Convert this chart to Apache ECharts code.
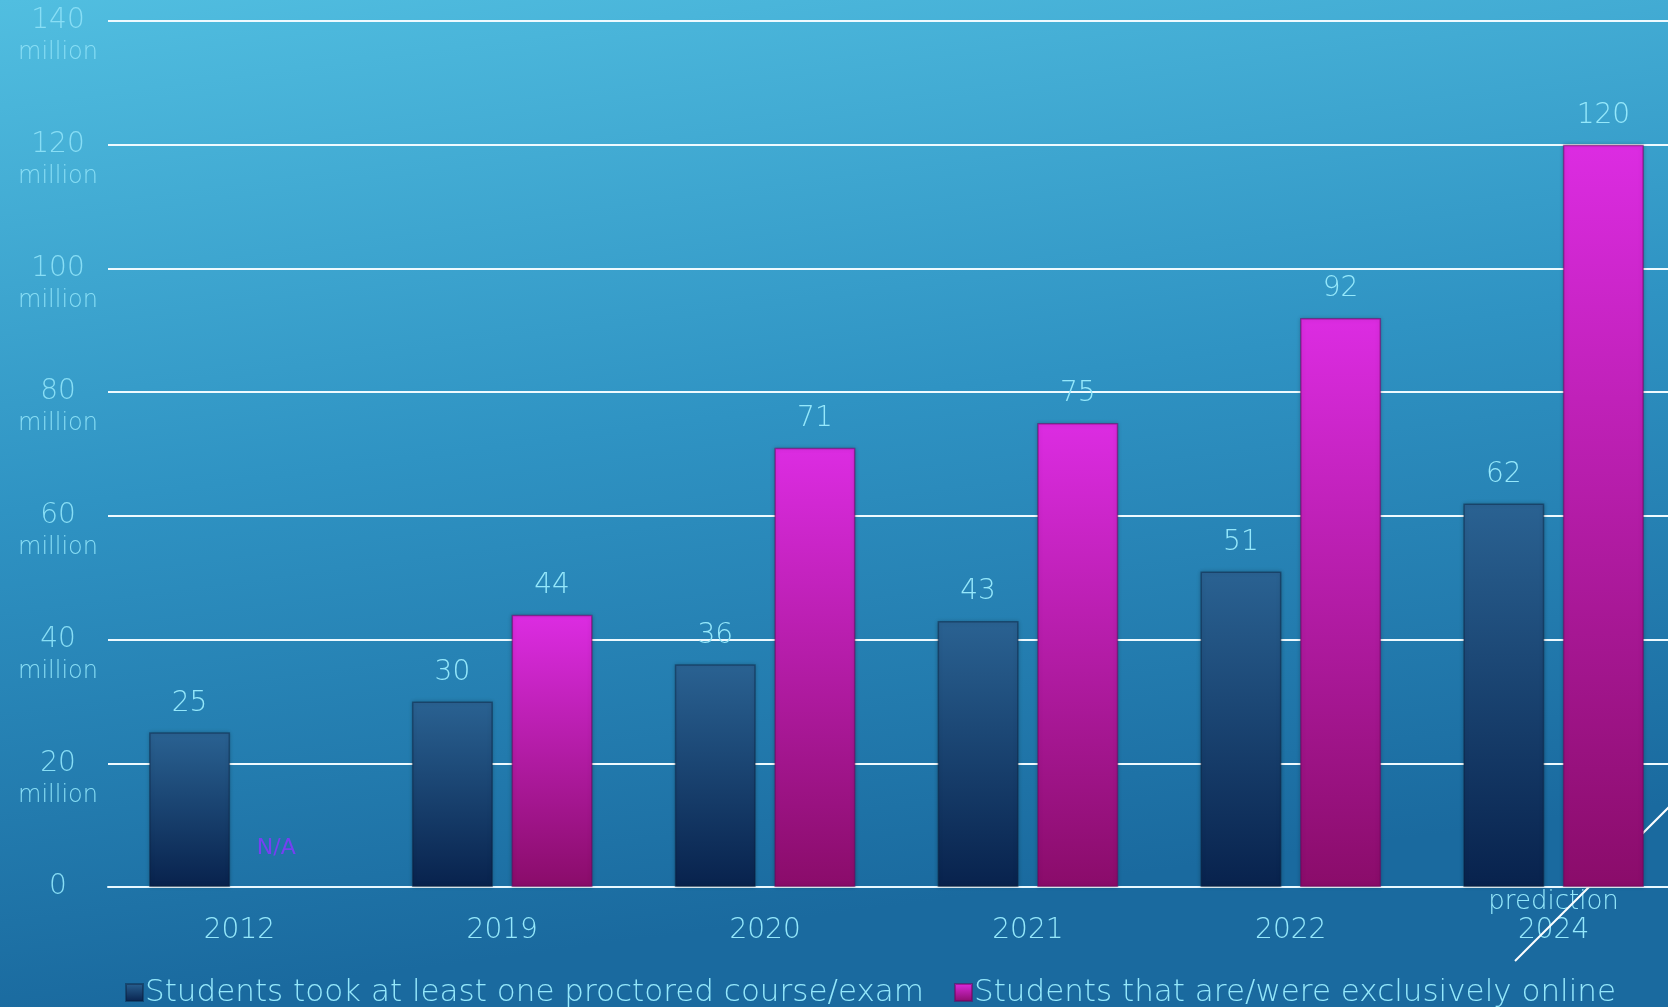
<!DOCTYPE html>
<html>
<head>
<meta charset="utf-8">
<script src="https://cdn.jsdelivr.net/npm/echarts@6/dist/echarts.min.js"></script>
<style>
html,body{margin:0;padding:0;}
#chart{width:1668px;height:1007px;}
</style>
</head>
<body>
<div id="chart"></div>
<script>
const categories = ['2012', '2019', '2020', '2021', '2022', '2024'];
const categoryNotes = ['', '', '', '', '', 'prediction'];
const proctored = [25, 30, 36, 43, 51, 62];
const online = [null, 44, 71, 75, 92, 120];
const yTicks = [0, 20, 40, 60, 80, 100, 120, 140];
const seriesNames = ['Students took at least one proctored course/exam', 'Students that are/were exclusively online'];

const FONT = "'DejaVu Sans', sans-serif";
const TXT = '#95e8fb';
const YTXT = '#88def5';
const W = 200;

const darkGrad = {type:'linear', x:0, y:0, x2:0, y2:1, colorStops:[{offset:0,color:'#2a6292'},{offset:1,color:'#08224d'}]};
const pinkGrad = {type:'linear', x:0, y:0, x2:0, y2:1, colorStops:[{offset:0,color:'#dc2ce2'},{offset:1,color:'#8a0c6a'}]};

const onlineData = online.map(v => v === null
  ? {value:0, itemStyle:{borderWidth:0, shadowBlur:0, color:'rgba(0,0,0,0)'},
     label:{show:true, formatter:'N/A', color:'#7640f2', fontSize:22, fontWeight:'normal', distance:28, offset:[-13,0]}}
  : v);

const chart = echarts.init(document.getElementById('chart'), null, {renderer:'canvas'});
chart.setOption({
  backgroundColor: {type:'linear', x:0, y:0, x2:0.08, y2:1, colorStops:[
    {offset:0, color:'#51bee0'}, {offset:0.5, color:'#2f93c3'}, {offset:1, color:'#1a6a9f'}]},
  textStyle:{fontFamily:FONT, fontWeight:W},
  grid:{left:108, right:-17, top:21, bottom:120, containLabel:false, outerBoundsMode:'none'},
  legend:{
    left:120, top:972, itemWidth:17, itemHeight:17, itemGap:30, icon:'rect',
    textStyle:{color:TXT, fontSize:31, fontFamily:FONT, fontWeight:W, padding:[0,0,0,-3]},
    data:seriesNames
  },
  xAxis:{
    type:'category', data:categories,
    axisLine:{show:true, lineStyle:{color:'#e8f8ff', width:2}},
    axisTick:{show:false},
    axisLabel:{
      margin:2, interval:0,
      formatter:(v, i) => '{p|' + (categoryNotes[i] || ' ') + '}\n{y|' + v + '}',
      rich:{
        p:{color:TXT, fontSize:26, lineHeight:27, fontFamily:FONT, fontWeight:W},
        y:{color:TXT, fontSize:28, lineHeight:30, fontFamily:FONT, fontWeight:W}
      }
    }
  },
  yAxis:{
    type:'value', min:0, max:140, interval:20,
    axisLine:{show:false}, axisTick:{show:false},
    splitLine:{show:true, lineStyle:{color:'#eefaff', width:2}},
    axisLabel:{
      margin:50, align:'center',
      formatter:v => yTicks.indexOf(v) < 0 ? '' :
        (v === 0 ? '{h| }\n{n|0}\n{h| }' : '{h|million}\n{n|' + v + '}\n{m|million}'),
      rich:{
        n:{color:YTXT, fontSize:28, lineHeight:30, fontFamily:FONT, fontWeight:W},
        m:{color:YTXT, fontSize:24, lineHeight:34, fontFamily:FONT, fontWeight:W},
        h:{color:'rgba(0,0,0,0)', fontSize:24, lineHeight:34, fontFamily:FONT}
      }
    }
  },
  graphic:[{
    type:'line', z:1,
    shape:{x1:1515, y1:961, x2:1672, y2:804},
    style:{stroke:'#ffffff', lineWidth:2}
  }],
  series:[
    {
      name:seriesNames[0], type:'bar', data:proctored, barWidth:81, barGap:'23%', z:3,
      itemStyle:{color:darkGrad, borderColor:'rgba(10,30,60,0.45)', borderWidth:1.5,
        shadowColor:'rgba(0,0,0,0.25)', shadowBlur:4},
      label:{show:true, position:'top', distance:15, color:TXT, fontSize:28, fontFamily:FONT, fontWeight:W}
    },
    {
      name:seriesNames[1], type:'bar', data:onlineData, barWidth:81, z:3,
      itemStyle:{color:pinkGrad, borderColor:'rgba(110,0,90,0.5)', borderWidth:1.5,
        shadowColor:'rgba(0,0,0,0.25)', shadowBlur:4},
      label:{show:true, position:'top', distance:15, color:TXT, fontSize:28, fontFamily:FONT, fontWeight:W}
    }
  ]
});
</script>
</body>
</html>
